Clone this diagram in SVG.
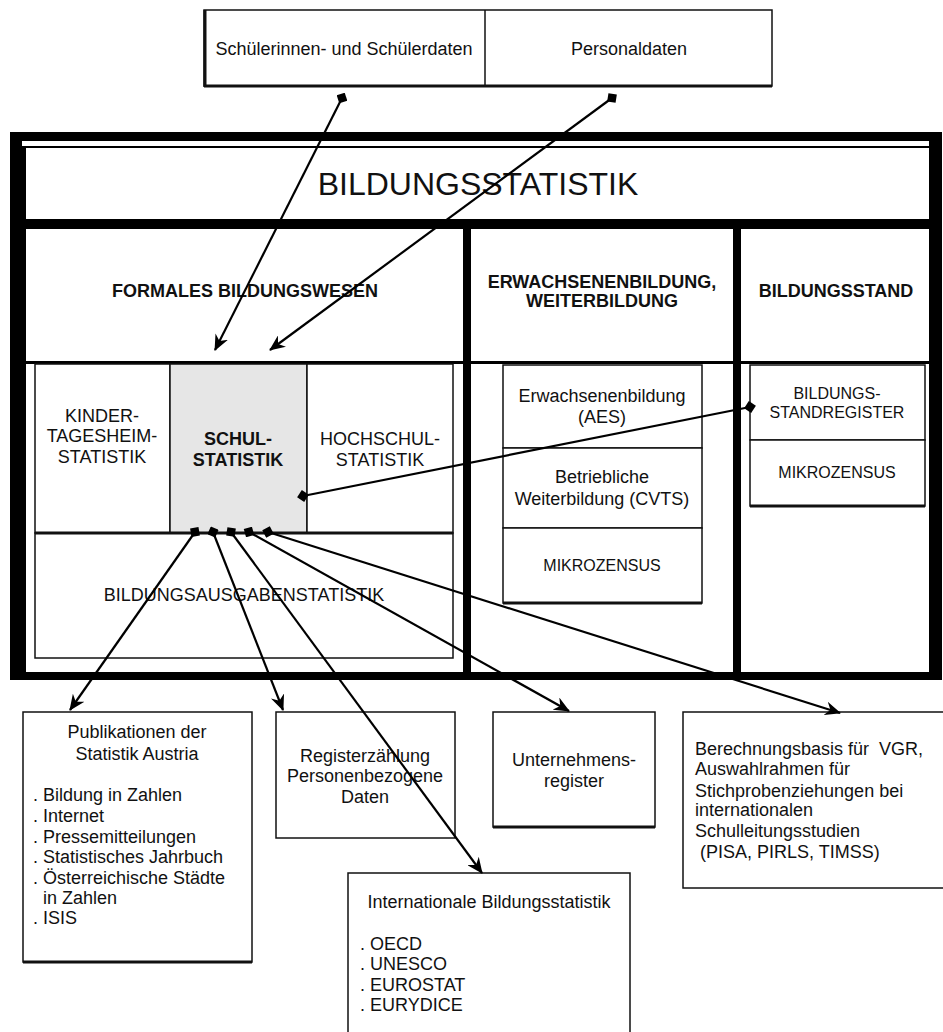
<svg xmlns="http://www.w3.org/2000/svg" width="943" height="1032" viewBox="0 0 943 1032">
<style>
text{font-family:"Liberation Sans",Arial,sans-serif;font-size:18px;fill:#111}
.c{text-anchor:middle}
.b{font-weight:bold}
.s{font-size:16px}
.box{fill:#fff;stroke:#111;stroke-width:1.5}
.cell{fill:#fff}
.sh{stroke:#111;stroke-width:3;fill:none}
.con{stroke:#000;stroke-width:2.2;fill:none;marker-end:url(#ah);marker-start:url(#dot)}
</style>
<defs>
<marker id="ah" markerUnits="userSpaceOnUse" markerWidth="16" markerHeight="14" viewBox="0 0 16 14" refX="15" refY="7" orient="auto">
<path d="M0,0 L16,7 L0,14 L5,7 z" fill="#000"/>
</marker>
<marker id="dot" markerUnits="userSpaceOnUse" markerWidth="12" markerHeight="12" viewBox="0 0 12 12" refX="6" refY="6" orient="auto">
<path d="M0,6 L6,0 L12,6 L6,12 z" fill="#000"/>
</marker>
</defs>

<g id="quellen">
<rect class="box" x="204" y="10" width="568" height="76"/>
<line x1="485" y1="10" x2="485" y2="86" stroke="#111" stroke-width="1.5"/>
<line class="sh" x1="204" y1="86" x2="772" y2="86"/>
<line x1="205" y1="10" x2="205" y2="87" stroke="#111" stroke-width="3"/>
<text class="c" x="344" y="55">Schülerinnen- und Schülerdaten</text>
<text class="c" x="629" y="55">Personaldaten</text>
</g>

<g id="rahmen">
<rect x="10" y="132" width="932" height="548" fill="#000"/>
<rect class="cell" x="22" y="141" width="907" height="5"/>
<rect class="cell" x="26" y="148" width="903" height="71"/>
<rect class="cell" x="26" y="229" width="437" height="132"/>
<rect class="cell" x="471" y="229" width="262" height="132"/>
<rect class="cell" x="741" y="229" width="188" height="132"/>
<rect class="cell" x="26" y="364" width="437" height="308"/>
<rect class="cell" x="471" y="364" width="262" height="308"/>
<rect class="cell" x="741" y="364" width="188" height="308"/>
</g>

<g id="titel">
<text class="c" x="478" y="195" style="font-size:32px">BILDUNGSSTATISTIK</text>
</g>

<g id="formales">
<text class="c b" x="245" y="297">FORMALES BILDUNGSWESEN</text>
</g>
<g id="erwachsenen">
<text class="c b" x="602" y="288">ERWACHSENENBILDUNG,</text>
<text class="c b" x="602" y="307">WEITERBILDUNG</text>
</g>
<g id="bildungsstand">
<text class="c b" x="836" y="297">BILDUNGSSTAND</text>
</g>

<g id="kinder">
<rect class="box" x="35" y="364" width="135" height="169"/>
<text class="c" x="102" y="422">KINDER-</text>
<text class="c" x="102" y="442">TAGESHEIM-</text>
<text class="c" x="102" y="463">STATISTIK</text>
</g>
<g id="schul">
<rect x="170" y="364" width="137" height="169" fill="#e6e6e6" stroke="#111" stroke-width="1.5"/>
<text class="c b" x="238" y="445">SCHUL-</text>
<text class="c b" x="238" y="466">STATISTIK</text>
</g>
<g id="hochschul">
<rect class="box" x="307" y="364" width="146" height="169"/>
<text class="c" x="380" y="445">HOCHSCHUL-</text>
<text class="c" x="380" y="466">STATISTIK</text>
</g>
<g id="ausgaben">
<rect class="box" x="35" y="533" width="418" height="125"/>
<line x1="35" y1="533" x2="453" y2="533" stroke="#111" stroke-width="3"/>
<text class="c" x="244" y="601">BILDUNGSAUSGABENSTATISTIK</text>
</g>

<g id="aes">
<rect class="box" x="503" y="365" width="199" height="83"/>
<text class="c" x="602" y="402">Erwachsenenbildung</text>
<text class="c" x="602" y="423">(AES)</text>
</g>
<g id="cvts">
<rect class="box" x="503" y="448" width="199" height="80"/>
<text class="c" x="602" y="483">Betriebliche</text>
<text class="c" x="602" y="505">Weiterbildung (CVTS)</text>
</g>
<g id="mikrozensus1">
<rect class="box" x="503" y="528" width="199" height="75"/>
<line class="sh" x1="503" y1="603" x2="702" y2="603"/>
<text class="c s" x="602" y="571">MIKROZENSUS</text>
</g>

<g id="standregister">
<rect class="box" x="750" y="365" width="175" height="75"/>
<text class="c s" x="837" y="399">BILDUNGS-</text>
<text class="c s" x="837" y="418">STANDREGISTER</text>
</g>
<g id="mikrozensus2">
<rect class="box" x="750" y="440" width="175" height="66"/>
<line class="sh" x1="750" y1="506" x2="925" y2="506"/>
<text class="c s" x="837" y="478">MIKROZENSUS</text>
</g>

<g id="publikationen">
<rect class="box" x="23" y="712" width="229" height="250"/>
<line class="sh" x1="23" y1="962" x2="252" y2="962"/>
<text class="c" x="137" y="738">Publikationen der</text>
<text class="c" x="137" y="760">Statistik Austria</text>
<text x="33" y="801">. Bildung in Zahlen</text>
<text x="33" y="822">. Internet</text>
<text x="33" y="843">. Pressemitteilungen</text>
<text x="33" y="863">. Statistisches Jahrbuch</text>
<text x="33" y="884">. Österreichische Städte</text>
<text x="33" y="904" xml:space="preserve">  in Zahlen</text>
<text x="33" y="924">. ISIS</text>
</g>

<g id="registerzaehlung">
<rect class="box" x="276" y="712" width="179" height="126"/>
<text class="c" x="365" y="762">Registerzählung</text>
<text class="c" x="365" y="782">Personenbezogene</text>
<text class="c" x="365" y="803">Daten</text>
</g>

<g id="unternehmensregister">
<rect class="box" x="493" y="712" width="162" height="115"/>
<line class="sh" x1="493" y1="827" x2="655" y2="827"/>
<text class="c" x="574" y="766">Unternehmens-</text>
<text class="c" x="574" y="787">register</text>
</g>

<g id="berechnungsbasis">
<rect class="box" x="683" y="712" width="262" height="176"/>
<text x="695" y="755" xml:space="preserve">Berechnungsbasis für  VGR,</text>
<text x="695" y="775">Auswahlrahmen für</text>
<text x="695" y="797">Stichprobenziehungen bei</text>
<text x="695" y="816">internationalen</text>
<text x="695" y="837">Schulleitungsstudien</text>
<text x="695" y="858" xml:space="preserve"> (PISA, PIRLS, TIMSS)</text>
</g>

<g id="international">
<rect class="box" x="348" y="873" width="282" height="170"/>
<text class="c" x="489" y="908">Internationale Bildungsstatistik</text>
<text x="360" y="950">. OECD</text>
<text x="360" y="970">. UNESCO</text>
<text x="360" y="991">. EUROSTAT</text>
<text x="360" y="1011">. EURYDICE</text>
</g>

<g id="connectors">
<line class="con" x1="342" y1="98" x2="215" y2="350"/>
<line class="con" x1="612" y1="98" x2="270" y2="350"/>
<line class="con" x1="303" y1="496" x2="750" y2="407" style="marker-end:url(#dot)"/>
<line class="con" x1="195" y1="532" x2="70" y2="710"/>
<line class="con" x1="213" y1="532" x2="283" y2="710"/>
<line class="con" x1="231" y1="532" x2="482" y2="873"/>
<line class="con" x1="249" y1="532" x2="569" y2="711"/>
<line class="con" x1="268" y1="532" x2="840" y2="713"/>
</g>
</svg>
